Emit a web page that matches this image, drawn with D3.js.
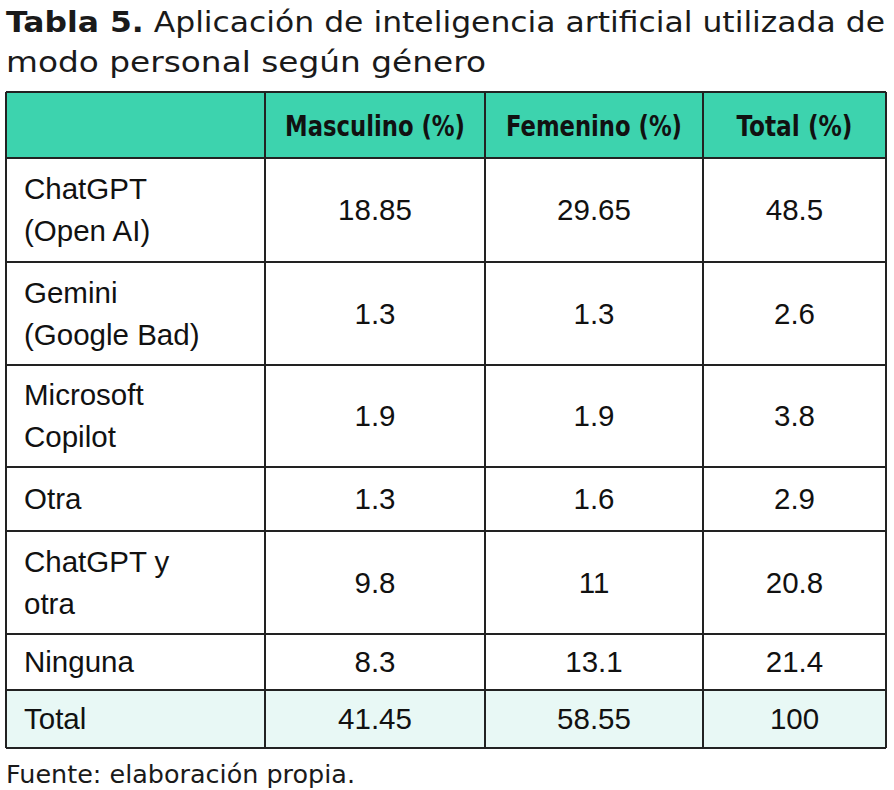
<!DOCTYPE html>
<html><head><meta charset="utf-8">
<script src="https://cdn.jsdelivr.net/npm/d3@7"></script>
<style>body{margin:0;background:#fff}</style>
</head><body><svg width="894" height="790"></svg>
<script>
var headers = ["", "Masculino (%)", "Femenino (%)", "Total (%)"];
var headerWidths = [0, 180, 176, 116];
var apps = [["ChatGPT", "(Open AI)"], ["Gemini", "(Google Bad)"], ["Microsoft", "Copilot"], ["Otra"], ["ChatGPT y", "otra"], ["Ninguna"], ["Total"]];
var masculino = ["18.85", "1.3", "1.9", "1.3", "9.8", "8.3", "41.45"];
var femenino = ["29.65", "1.3", "1.9", "1.6", "11", "13.1", "58.55"];
var total = ["48.5", "2.6", "3.8", "2.9", "20.8", "21.4", "100"];

var colX = [6, 265, 485, 703, 886];
var rowY = [92, 158, 262, 365, 467, 531, 634, 690, 748];

var svg = d3.select("svg");
var font = "'Liberation Sans', Arial, sans-serif";
var titleFont = "'DejaVu Sans', sans-serif";

svg.append("text").attr("x", 6).attr("y", 32).attr("font-family", titleFont)
    .attr("font-size", 29).attr("fill", "#1a1a1a").attr("textLength", 879).attr("lengthAdjust", "spacingAndGlyphs")
    .html('<tspan font-weight="bold">Tabla 5.</tspan> Aplicación de inteligencia artificial utilizada de');
svg.append("text").attr("x", 6).attr("y", 72).attr("font-family", titleFont)
    .attr("font-size", 29).attr("fill", "#1a1a1a").attr("textLength", 480).attr("lengthAdjust", "spacingAndGlyphs")
    .text("modo personal según género");

svg.append("rect").attr("x", colX[0]).attr("y", rowY[0]).attr("width", colX[4] - colX[0])
    .attr("height", rowY[1] - rowY[0]).attr("fill", "#3dd3ae");
svg.append("rect").attr("x", colX[0]).attr("y", rowY[7]).attr("width", colX[4] - colX[0])
    .attr("height", rowY[8] - rowY[7]).attr("fill", "#e8f8f5");

headers.forEach(function (h, i) {
    if (!h) return;
    svg.append("text").attr("x", (colX[i] + colX[i + 1]) / 2).attr("y", (rowY[0] + rowY[1]) / 2 + 11)
        .attr("text-anchor", "middle").attr("font-family", "'DejaVu Sans Condensed', 'DejaVu Sans', sans-serif")
        .attr("font-weight", "bold").attr("font-size", 29).attr("textLength", headerWidths[i])
        .attr("lengthAdjust", "spacingAndGlyphs").attr("fill", "#111").text(h);
});

apps.forEach(function (lines, r) {
    var y0 = rowY[r + 1], y1 = rowY[r + 2], cy = (y0 + y1) / 2;
    var g = svg.append("g");
    lines.forEach(function (l, k) {
        g.append("text").attr("x", colX[0] + 18)
            .attr("y", cy + 10 + (k - (lines.length - 1) / 2) * 42)
            .attr("font-family", font).attr("font-size", 29.5).attr("fill", "#111").text(l);
    });
    [masculino[r], femenino[r], total[r]].forEach(function (v, c) {
        g.append("text").attr("x", (colX[c + 1] + colX[c + 2]) / 2).attr("y", cy + 10)
            .attr("text-anchor", "middle").attr("font-family", font).attr("font-size", 29.5)
            .attr("fill", "#111").text(v);
    });
});

svg.selectAll("line.h").data(rowY).enter().append("line")
    .attr("x1", colX[0]).attr("x2", colX[4]).attr("y1", function (d) { return d; }).attr("y2", function (d) { return d; })
    .attr("stroke", "#222").attr("stroke-width", 2);
svg.selectAll("line.v").data(colX).enter().append("line")
    .attr("y1", rowY[0]).attr("y2", rowY[8]).attr("x1", function (d) { return d; }).attr("x2", function (d) { return d; })
    .attr("stroke", "#222").attr("stroke-width", 2);

svg.append("text").attr("x", 6).attr("y", 783).attr("font-family", titleFont)
    .attr("font-size", 25).attr("fill", "#1a1a1a").attr("textLength", 349).attr("lengthAdjust", "spacingAndGlyphs")
    .text("Fuente: elaboración propia.");
</script></body></html>
